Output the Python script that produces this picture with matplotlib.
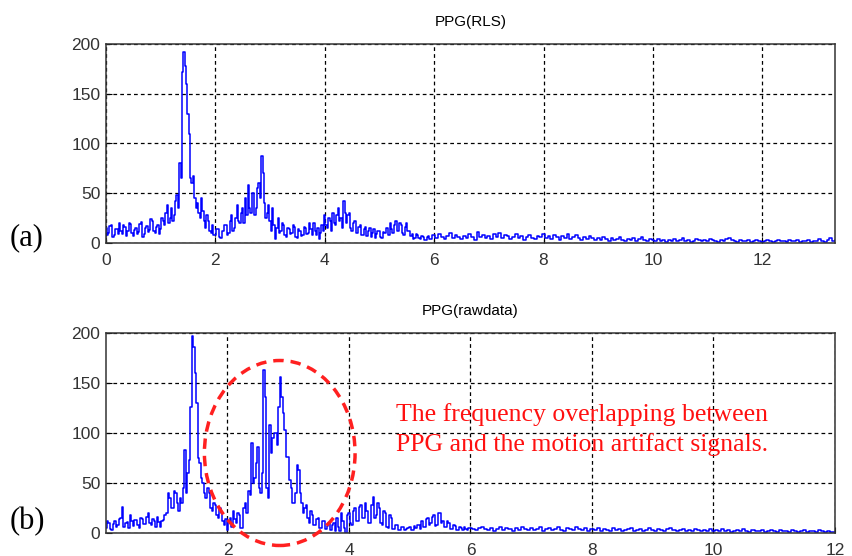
import numpy as np
import matplotlib
matplotlib.use("Agg")
import matplotlib.pyplot as plt
from matplotlib.patches import Ellipse

# ---------------- data ----------------
fine_step = 0.025    # resolution used from 0 to 6 Hz
coarse_step = 0.05   # resolution used from 6 Hz on

# (a) PPG(RLS) spectrum: 0 .. 5.975 Hz (fine) then 6 .. 13.35 Hz (coarse)
rls_low = [
    15, 8, 10, 17, 18, 6, 8, 14, 14, 9, 20, 12, 9, 18, 16, 7, 12, 20, 19, 10,
    7, 13, 15, 9, 11, 19, 21, 6, 9, 15, 17, 11, 13, 24, 22, 12, 10, 16, 18, 9,
    14, 25, 22, 18, 30, 38, 20, 25, 35, 22, 28, 42, 48, 35, 80, 65, 172, 192, 178, 160,
    130, 110, 65, 60, 67, 45, 35, 40, 30, 25, 45, 32, 22, 15, 28, 22, 12, 10, 18, 8,
    8, 14, 14, 6, 5, 12, 12, 18, 18, 8, 10, 22, 28, 12, 15, 25, 38, 22, 20, 30,
    35, 20, 45, 28, 58, 35, 30, 50, 50, 28, 35, 55, 60, 45, 87, 70, 40, 25, 30, 38,
    22, 12, 35, 18, 4, 15, 25, 10, 12, 20, 18, 8, 6, 15, 14, 9, 10, 18, 16, 6,
    5, 14, 12, 7, 8, 16, 15, 9, 10, 20, 14, 8, 20, 12, 8, 15, 4, 10, 18, 12,
    28, 18, 15, 25, 22, 12, 30, 20, 18, 28, 35, 22, 25, 15, 42, 30, 20, 28, 30, 15,
    12, 20, 22, 10, 10, 16, 18, 8, 8, 14, 16, 7, 12, 15, 6, 10, 14, 5, 9, 12,
    12, 6, 5, 11, 10, 15, 15, 8, 20, 14, 10, 18, 22, 12, 12, 20, 18, 10, 8, 16,
    20, 12, 12, 7, 9, 4, 5, 9, 8, 5, 4, 7, 6, 3, 3, 6, 7, 4, 4, 8,
]
rls_high = [
    8, 5, 9, 6, 4, 7, 10, 5, 8, 6, 4, 7, 5, 9, 6, 3, 11, 6, 8, 5,
    7, 4, 9, 6, 10, 5, 8, 7, 4, 6, 9, 5, 7, 3, 6, 8, 5, 4, 7, 6,
    9, 5, 7, 4, 8, 6, 3, 7, 5, 9, 4, 6, 8, 5, 3, 6, 4, 7, 5, 3,
    5, 3, 6, 4, 2, 5, 3, 4, 6, 3, 2, 4, 3, 5, 2, 4, 6, 3, 2, 4,
    3, 2, 4, 2, 3, 1, 3, 2, 4, 2, 3, 5, 2, 3, 1, 2, 4, 3, 2, 3,
    2, 4, 3, 2, 1, 3, 2, 4, 5, 3, 2, 1, 3, 2, 2, 3, 1, 2, 3, 2,
    1, 2, 3, 2, 1, 2, 3, 2, 2, 1, 3, 2, 2, 3, 1, 2, 2, 3, 1, 2,
    2, 4, 2, 1, 3, 5, 2, 3,
]

# (b) PPG(rawdata) spectrum: 0 .. 5.975 Hz (fine) then 6 .. 12 Hz (coarse)
raw_low = [
    5, 12, 10, 4, 3, 9, 12, 6, 8, 14, 15, 26, 6, 10, 11, 5, 18, 12, 7, 13,
    13, 8, 5, 15, 14, 9, 9, 16, 20, 10, 8, 14, 12, 6, 16, 11, 6, 12, 13, 18,
    20, 40, 35, 25, 25, 42, 40, 30, 22, 35, 30, 45, 83, 40, 60, 73, 126, 197, 186, 160,
    130, 75, 70, 55, 50, 40, 35, 45, 40, 25, 22, 30, 28, 18, 15, 25, 20, 12, 8, 14,
    3, 12, 15, 6, 22, 14, 10, 20, 18, 5, 5, 25, 30, 20, 42, 38, 90, 50, 55, 70,
    86, 45, 40, 60, 163, 136, 45, 35, 108, 80, 95, 100, 100, 88, 126, 156, 136, 120, 103, 76,
    76, 53, 45, 30, 30, 40, 68, 63, 40, 30, 20, 25, 28, 15, 10, 22, 18, 8, 8, 14,
    15, 5, 5, 12, 12, 4, 7, 10, 3, 8, 10, 2, 15, 6, 2, 20, 12, 5, 0, 18,
    20, 10, 8, 22, 25, 12, 12, 26, 28, 15, 15, 30, 22, 10, 10, 28, 36, 15, 18, 30,
    25, 10, 8, 22, 20, 6, 5, 18, 15, 4, 4, 8, 8, 3, 3, 6, 6, 3, 4, 5,
    6, 3, 3, 7, 5, 8, 8, 4, 12, 6, 6, 14, 15, 8, 10, 16, 18, 7, 8, 20,
    20, 10, 12, 6, 6, 12, 10, 4, 4, 8, 7, 3, 3, 6, 5, 3, 6, 4, 3, 5,
]
raw_high = [
    5, 4, 3, 5, 6, 4, 3, 5, 2, 4, 6, 3, 5, 4, 2, 5, 3, 6, 4, 3,
    5, 3, 4, 6, 2, 4, 5, 3, 4, 6, 3, 2, 5, 4, 3, 6, 4, 3, 5, 2,
    4, 3, 5, 2, 4, 3, 2, 5, 3, 4, 2, 3, 4, 5, 2, 3, 4, 2, 3, 5,
    3, 2, 4, 3, 2, 4, 5, 3, 2, 3, 4, 2, 3, 2, 4, 3, 2, 3, 2, 4,
    2, 3, 2, 4, 2, 3, 1, 2, 3, 2, 4, 2, 1, 3, 2, 2, 3, 1, 2, 3,
    2, 1, 3, 2, 2, 1, 3, 2, 1, 2, 3, 1, 2, 2, 1, 3, 2, 1, 2, 1,
    1,
]

titles = ["PPG(RLS)", "PPG(rawdata)"]
panel_labels = ["(a)", "(b)"]
yticks = [0, 50, 100, 150, 200]
xticks_a = [0, 2, 4, 6, 8, 10, 12]
xticks_b = [2, 4, 6, 8, 10, 12]
annotation_lines = ["The frequency overlapping between",
                    "PPG and the motion artifact signals."]

def freq_axis(n_low, n_high):
    return np.concatenate([np.arange(n_low) * fine_step,
                           n_low * fine_step + np.arange(n_high) * coarse_step])

freq_a = freq_axis(len(rls_low), len(rls_high))
freq_b = freq_axis(len(raw_low), len(raw_high))
vals_a = rls_low + rls_high
vals_b = raw_low + raw_high

# ---------------- figure ----------------
W, H = 853, 556
fig = plt.figure(figsize=(W / 100, H / 100), dpi=100)

def px_axes(left, top, right, bottom):
    return fig.add_axes([left / W, 1 - bottom / H, (right - left) / W, (bottom - top) / H])

ax1 = px_axes(106, 44, 835, 243)
ax2 = px_axes(106, 333, 835, 533)

def style(ax, xlim, xticks):
    ax.set_xlim(*xlim)
    ax.set_ylim(0, 200)
    ax.set_yticks(yticks)
    ax.set_xticks(xticks)
    ax.set_xticklabels([str(t) for t in xticks], fontfamily="Liberation Sans", fontsize=12.5, color="#333333")
    ax.set_yticklabels([str(t) for t in yticks], fontfamily="Liberation Sans", fontsize=12.5, color="#333333")
    ax.tick_params(axis="x", direction="in", length=4, width=0.8, pad=7)
    ax.tick_params(axis="y", direction="in", length=4, width=0.8, pad=4)
    ax.grid(True, color="black", linestyle=(0, (3, 2.5)), linewidth=0.9)
    ax.set_axisbelow(True)
    for s in ax.spines.values():
        s.set_color("#333333")
        s.set_linewidth(1.1)

ax1.plot(freq_a, vals_a, color="#0000ff", linewidth=1.1, drawstyle="steps-mid")
style(ax1, (0, 13.33), xticks_a)
ax1.set_title(titles[0], fontfamily="Liberation Sans", fontsize=11, pad=13)

ax2.plot(freq_b, vals_b, color="#0000ff", linewidth=1.1, drawstyle="steps-mid")
style(ax2, (0, 12), xticks_b)
ax2.set_title(titles[1], fontfamily="Liberation Sans", fontsize=11, pad=13)

ell = Ellipse((2.86, 80), width=2.48, height=185, fill=False, edgecolor="#ff2020",
              linewidth=2.5, linestyle=(0, (3, 2)), clip_on=False, zorder=5)
ax2.add_patch(ell)

ax2.text(4.78, 118, annotation_lines[0], color="#ff1010", family="Liberation Serif",
         fontsize=18.5, ha="left", va="center", zorder=6)
ax2.text(4.78, 88, annotation_lines[1], color="#ff1010", family="Liberation Serif",
         fontsize=18.5, ha="left", va="center", zorder=6)

fig.text(10 / W, 1 - 238 / H, panel_labels[0], family="Liberation Serif", fontsize=22,
         ha="left", va="center")
fig.text(10 / W, 1 - 522 / H, panel_labels[1], family="Liberation Serif", fontsize=22,
         ha="left", va="center")

fig.savefig("out.png", dpi=100)
